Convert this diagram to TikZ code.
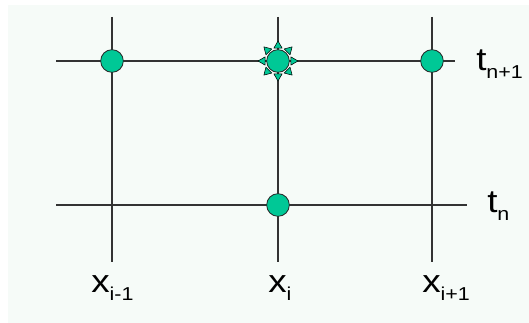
\documentclass[tikz,border=0pt]{standalone}
\usepackage{fontspec}
\setmainfont{Liberation Sans}[FakeStretch=1.15]
\usetikzlibrary{calc}
\definecolor{gridgray}{RGB}{51,51,51}
\definecolor{nodeteal}{RGB}{0,200,150}
\definecolor{paneltint}{RGB}{246,251,248}
\newcommand{\gridlbl}[2]{{\fontsize{24pt}{26pt}\selectfont #1}\raisebox{-5.5pt}{\fontsize{14pt}{15pt}\selectfont #2}}
\tikzset{
  gline/.style ={line width=0.8pt, gridgray},
  gpt/.style   ={circle, draw=black!85, fill=nodeteal, line width=0.6pt,
                 minimum size=17pt, inner sep=0pt},
  gspike/.style={fill=nodeteal, draw=black, line width=0.4pt, line join=round},
  glabel/.style={anchor=base west, inner sep=0pt},
}

\begin{document}
\begin{tikzpicture}[x=0.75pt, y=-0.75pt]
  \useasboundingbox (0,0) rectangle (529,323);
  \fill[paneltint] (8,5) rectangle (529,323);
  \coordinate (tl1) at (56,61);  \coordinate (tr1) at (455,61);
  \coordinate (tl0) at (56,205); \coordinate (tr0) at (467,205);
  \coordinate (xat) at (112,17); \coordinate (xab) at (112,262);
  \coordinate (xbt) at (278,17); \coordinate (xbb) at (278,262);
  \coordinate (xct) at (432,17); \coordinate (xcb) at (432,262);
  \draw[gline] (tl1) -- (tr1);
  \draw[gline] (tl0) -- (tr0);
  \draw[gline] (xat) -- (xab);
  \draw[gline] (xbt) -- (xbb);
  \draw[gline] (xct) -- (xcb);
  \node[gpt] (pa1) at (112,61)  {};
  \node[gpt] (pb1) at (278,61)  {};
  \node[gpt] (pc1) at (432,61)  {};
  \node[gpt] (pb0) at (278,205) {};
  \foreach \a in {0,45,...,315}
    \filldraw[gspike] ($(pb1)+(\a:20)$) -- ($(pb1)+(\a+18:13.5)$) -- ($(pb1)+(\a-18:13.5)$) -- cycle;
  \node[glabel] (ltn1) at (476,71)  {\gridlbl{t}{n+1}};
  \node[glabel] (ltn)  at (487,213) {\gridlbl{t}{n}};
  \node[glabel] (lxa)  at (91,293)  {\gridlbl{x}{i-1}};
  \node[glabel] (lxb)  at (268,293) {\gridlbl{x}{i}};
  \node[glabel] (lxc)  at (422,293) {\gridlbl{x}{i+1}};
\end{tikzpicture}
\end{document}
